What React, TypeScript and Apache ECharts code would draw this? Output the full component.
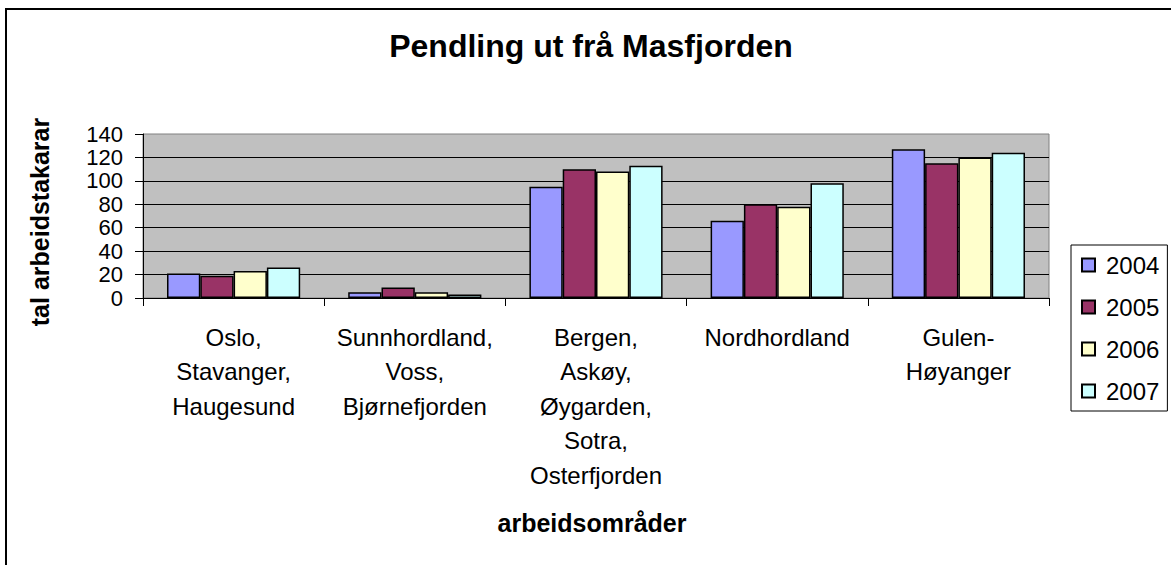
import React, { useEffect, useRef } from "react";
import * as echarts from "echarts";

const categories = [
  "Oslo,\nStavanger,\nHaugesund",
  "Sunnhordland,\nVoss,\nBjørnefjorden",
  "Bergen,\nAskøy,\nØygarden,\nSotra,\nOsterfjorden",
  "Nordhordland",
  "Gulen-\nHøyanger",
];
const years = ["2004", "2005", "2006", "2007"];
const v2004 = [21, 5, 95, 66, 127];
const v2005 = [19, 9, 110, 80, 115];
const v2006 = [23, 5, 108, 78, 120];
const v2007 = [26, 3, 113, 98, 124];
const colors = ["#9999FF", "#993366", "#FFFFCC", "#CCFFFF"];
const chartTitle = "Pendling ut frå Masfjorden";
const yTitle = "tal arbeidstakarar";
const xTitle = "arbeidsområder";

const FONT = "'Liberation Sans', Arial, sans-serif";

export default function App() {
  const ref = useRef<HTMLDivElement>(null);
  useEffect(() => {
    if (!ref.current) return;
    const chart = echarts.init(ref.current, undefined, { renderer: "svg" });
    const seriesData = [v2004, v2005, v2006, v2007];
    chart.setOption({
      animation: false,
      backgroundColor: "#ffffff",
      textStyle: { fontFamily: FONT },
      graphic: [
        {
          type: "rect",
          shape: { x: 6, y: 9, width: 1400, height: 800 },
          style: { fill: "none", stroke: "#000", lineWidth: 2 },
          silent: true,
        },
        {
          type: "text",
          x: 591,
          y: 46,
          style: {
            text: chartTitle,
            font: `bold 32px ${FONT}`,
            fill: "#000",
            textAlign: "center",
            textVerticalAlign: "middle",
          },
        },
        {
          type: "text",
          x: 40,
          y: 222,
          rotation: Math.PI / 2,
          style: {
            text: yTitle,
            font: `bold 25px ${FONT}`,
            fill: "#000",
            textAlign: "center",
            textVerticalAlign: "middle",
          },
        },
        {
          type: "text",
          x: 592,
          y: 523,
          style: {
            text: xTitle,
            font: `bold 25px ${FONT}`,
            fill: "#000",
            textAlign: "center",
            textVerticalAlign: "middle",
          },
        },
      ],
      legend: {
        orient: "vertical",
        left: 1071,
        top: 245,
        padding: [8, 8, 8, 10],
        itemWidth: 13,
        itemHeight: 13,
        itemGap: 18,
        backgroundColor: "#ffffff",
        borderColor: "#000",
        borderWidth: 1,
        borderRadius: 0,
        icon: "rect",
        textStyle: { fontSize: 24, color: "#000", fontFamily: FONT, padding: [0, 0, 0, 6] },
        data: years,
      },
      grid: {
        left: 143,
        top: 134,
        right: 122,
        bottom: 267,
        show: true,
        backgroundColor: "#C0C0C0",
        borderColor: "#808080",
        borderWidth: 1,
        containLabel: false,
      },
      xAxis: {
        type: "category",
        data: categories,
        axisLine: { show: true, lineStyle: { color: "#000", width: 1 } },
        axisTick: { show: true, length: 8, alignWithLabel: false, lineStyle: { color: "#000" } },
        axisLabel: {
          interval: 0,
          margin: 22,
          fontSize: 24,
          lineHeight: 34.5,
          color: "#000",
          fontFamily: FONT,
          align: "center",
        },
      },
      yAxis: {
        type: "value",
        min: 0,
        max: 140,
        interval: 20,
        axisLine: { show: true, lineStyle: { color: "#000", width: 1 } },
        axisTick: { show: true, length: 8, lineStyle: { color: "#000" } },
        axisLabel: {
          margin: 20,
          fontSize: 22,
          lineHeight: 20,
          color: "#000",
          fontFamily: FONT,
          showMinLabel: true,
          showMaxLabel: true,
          hideOverlap: false,
        },
        splitLine: {
          show: true,
          showMinLine: false,
          showMaxLine: false,
          lineStyle: { color: "#000", width: 1 },
        },
      },
      series: years.map((y, i) => ({
        name: y,
        type: "bar",
        data: seriesData[i],
        barGap: "0%",
        barCategoryGap: "26.5%",
        itemStyle: { color: colors[i], borderColor: "#000", borderWidth: 1.5 },
      })),
    });
    return () => chart.dispose();
  }, []);
  return (
    <div
      ref={ref}
      style={{ position: "absolute", left: 0, top: 0, width: 1171, height: 565 }}
    />
  );
}
